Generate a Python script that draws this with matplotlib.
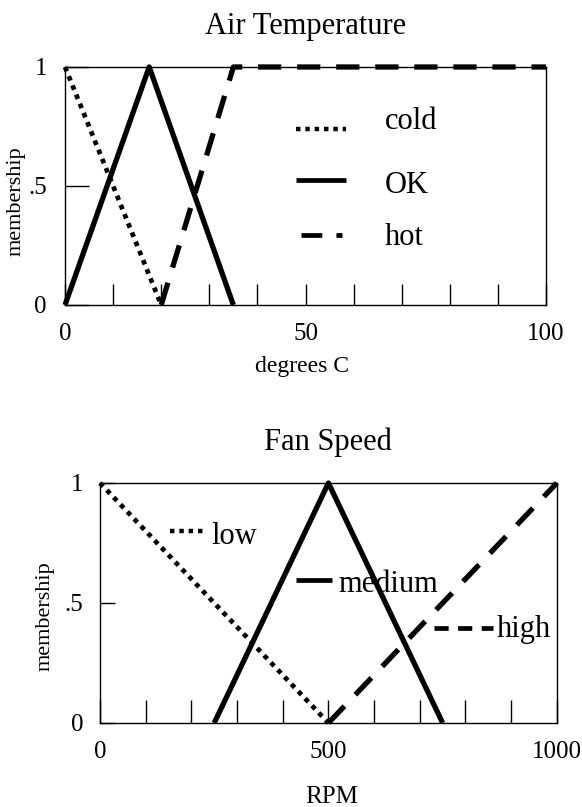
import matplotlib
matplotlib.use("Agg")
import matplotlib.pyplot as plt
from matplotlib.ticker import FixedLocator, MultipleLocator

plt.rcParams["font.family"] = ["Liberation Serif", "DejaVu Serif"]

# membership functions, air temperature (degrees C)
COLD_X = [0, 20]
COLD_Y = [1, 0]
OK_X = [0, 17.5, 35]
OK_Y = [0, 1, 0]
HOT_X = [20, 35, 100]
HOT_Y = [0, 1, 1]

# membership functions, fan speed (RPM)
LOW_X = [0, 500]
LOW_Y = [1, 0]
MED_X = [250, 500, 750]
MED_Y = [0, 1, 0]
HIGH_X = [500, 1000]
HIGH_Y = [0, 1]

Y_TICKS = [0, 0.5, 1]
Y_TICK_LABELS = ["0", ".5", "1"]
TEMP_TICKS = [0, 50, 100]
RPM_TICKS = [0, 500, 1000]

DOT = (0, (1, 1.1))
DASH = (0, (4.4, 3))
SOLID = "-"


def style_axes(ax, ylen, xlen, xpad, ypad):
    for spine in ax.spines.values():
        spine.set_linewidth(1.0)
        spine.set_color("black")
    ax.tick_params(axis="x", which="both", direction="in", length=xlen,
                   width=1.0, labelsize=18, pad=xpad)
    ax.tick_params(axis="y", which="both", direction="in", length=ylen,
                   width=1.0, labelsize=18, pad=ypad)
    ax.set_ylim(0, 1)
    ax.yaxis.set_major_locator(FixedLocator(Y_TICKS))
    ax.set_yticklabels(Y_TICK_LABELS)


def sample(ax, xs, y, ls, label, tx, ty, lw=3.4):
    ax.plot(xs, [y, y], color="black", lw=lw, ls=ls,
            solid_capstyle="butt", dash_capstyle="butt", clip_on=False)
    ax.text(tx, ty, label, fontsize=22, va="center", ha="left")


fig = plt.figure(figsize=(5.82, 8.07), dpi=100)

# ---- Air Temperature
ax1 = fig.add_axes([0.1117, 0.6221, 0.8265, 0.2949])
ax1.plot(COLD_X, COLD_Y, color="black", lw=3.4, ls=DOT,
         dash_capstyle="butt", clip_on=False, zorder=3)
ax1.plot(OK_X, OK_Y, color="black", lw=3.8, ls=SOLID,
         solid_capstyle="butt", clip_on=False, zorder=3)
ax1.plot(HOT_X, HOT_Y, color="black", lw=3.8, ls=DASH,
         dash_capstyle="butt", clip_on=False, zorder=3)
ax1.set_xlim(0, 100)
ax1.xaxis.set_major_locator(FixedLocator(TEMP_TICKS))
ax1.xaxis.set_minor_locator(MultipleLocator(10))
style_axes(ax1, ylen=17, xlen=15, xpad=13, ypad=13)
ax1.set_title("Air Temperature", fontsize=22, pad=24)
ax1.set_xlabel("degrees C", fontsize=17)
ax1.xaxis.set_label_coords(0.493, -0.214)
ax1.set_ylabel("membership", fontsize=16)
ax1.yaxis.set_label_coords(-0.082, 0.437)

sample(ax1, [48, 58.4], 0.74, DOT, "cold", 66.5, 0.77, lw=3.2)
sample(ax1, [48, 58.4], 0.525, SOLID, "OK", 66.5, 0.50)
sample(ax1, [49, 57.6], 0.294, DASH, "hot", 66.5, 0.285)

# ---- Fan Speed
ax2 = fig.add_axes([0.1718, 0.1041, 0.785, 0.2974])
ax2.plot(LOW_X, LOW_Y, color="black", lw=3.4, ls=DOT,
         dash_capstyle="butt", clip_on=False, zorder=3)
ax2.plot(MED_X, MED_Y, color="black", lw=3.8, ls=SOLID,
         solid_capstyle="butt", clip_on=False, zorder=3)
ax2.plot(HIGH_X, HIGH_Y, color="black", lw=3.8, ls=DASH,
         dash_capstyle="butt", clip_on=False, zorder=3)
ax2.set_xlim(0, 1000)
ax2.xaxis.set_major_locator(FixedLocator(RPM_TICKS))
ax2.xaxis.set_minor_locator(MultipleLocator(100))
style_axes(ax2, ylen=11, xlen=16.5, xpad=13, ypad=12)
ax2.set_title("Fan Speed", fontsize=22, pad=24)
ax2.set_xlabel("RPM", fontsize=18)
ax2.xaxis.set_label_coords(0.507, -0.2625)
ax2.set_ylabel("membership", fontsize=16)
ax2.yaxis.set_label_coords(-0.1, 0.446)

sample(ax2, [153, 225], 0.80, DOT, "low", 244, 0.775, lw=3.2)
sample(ax2, [430, 508], 0.596, SOLID, "medium", 521, 0.575)
sample(ax2, [731, 860], 0.397, (0, (3, 2)), "high", 868, 0.388, lw=3.4)

fig.savefig("out.png", dpi=100, facecolor="white")
